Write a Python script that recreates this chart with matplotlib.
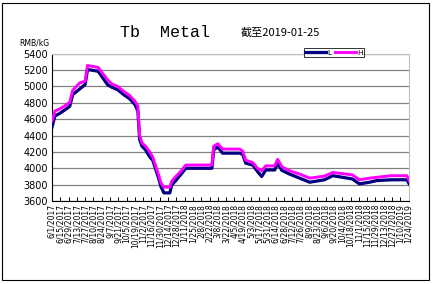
import pandas as pd
import matplotlib.pyplot as plt
from matplotlib.patches import Rectangle

plt.rcParams['font.family'] = ['Noto Sans CJK SC', 'DejaVu Sans']

# price breakpoints (RMB/kG)
dates = ['2017-06-01', '2017-06-06', '2017-06-14', '2017-06-24', '2017-07-01', '2017-07-06',
         '2017-07-18', '2017-07-27', '2017-07-31', '2017-08-18', '2017-09-03', '2017-09-10',
         '2017-09-20', '2017-09-30', '2017-10-10', '2017-10-19', '2017-10-24', '2017-10-27',
         '2017-10-31', '2017-11-06', '2017-11-13', '2017-11-18', '2017-11-23', '2017-11-28',
         '2017-12-02', '2017-12-07', '2017-12-17', '2017-12-20', '2017-12-27', '2018-01-04',
         '2018-01-13', '2018-02-26', '2018-03-01', '2018-03-08', '2018-03-16', '2018-04-14',
         '2018-04-19', '2018-04-24', '2018-05-06', '2018-05-14', '2018-05-21', '2018-05-28',
         '2018-06-12', '2018-06-17', '2018-06-24', '2018-07-07', '2018-07-24', '2018-08-10',
         '2018-09-04', '2018-09-18', '2018-10-21', '2018-11-02', '2018-11-19', '2018-12-01',
         '2018-12-26', '2019-01-21', '2019-01-25']
low = [4500, 4640, 4670, 4720, 4757, 4900,
       4970, 5023, 5207, 5185, 5020, 4990,
       4960, 4900, 4850, 4780, 4700, 4350,
       4270, 4225, 4140, 4100, 3990, 3880,
       3775, 3700, 3700, 3795, 3850, 3920,
       4000, 4000, 4225, 4260, 4185, 4185,
       4170, 4063, 4040, 3960, 3900, 3980,
       3980, 4060, 3975, 3930, 3880, 3830,
       3860, 3910, 3870, 3810, 3830, 3850,
       3860, 3860, 3810]
high = [4580, 4700, 4725, 4770, 4806, 4953,
        5044, 5064, 5256, 5232, 5080, 5030,
        5000, 4940, 4890, 4820, 4760, 4400,
        4310, 4270, 4200, 4140, 4030, 3920,
        3820, 3770, 3770, 3840, 3900, 3960,
        4040, 4040, 4270, 4300, 4235, 4235,
        4210, 4100, 4070, 4000, 3970, 4030,
        4030, 4110, 4020, 3970, 3930, 3880,
        3905, 3950, 3920, 3860, 3880, 3890,
        3910, 3910, 3850]

x = pd.to_datetime(dates)
ticks = pd.date_range('2017-06-01', '2019-01-24', freq='14D')
tick_labels = [f'{d.month}/{d.day}/{d.year}' for d in ticks]

fig = plt.figure(figsize=(4.33, 2.84), dpi=100)
ax = fig.add_axes([0.120, 0.292, 0.825, 0.519])

ax.plot(x, low, color='#000080', lw=2.3, label='L', zorder=3)
ax.plot(x, high, color='#ff00ff', lw=2.1, label='H', zorder=4)

ax.set_ylim(3600, 5400)
ax.set_yticks(range(3600, 5401, 200))
ax.set_xlim(ticks[0], pd.Timestamp('2019-01-25'))
ax.set_xticks(ticks)
ax.set_xticklabels(tick_labels, rotation=90, fontsize=5.5, family='DejaVu Sans')
ax.tick_params(axis='x', direction='in', length=3, width=0.7, pad=2)
ax.tick_params(axis='y', length=0, labelsize=7, pad=3)
for lab in ax.get_yticklabels():
    lab.set_family('DejaVu Sans')

ax.grid(axis='y', color='#808080', lw=0.9)
ax.set_axisbelow(True)
for s in ['top', 'right']:
    ax.spines[s].set_color('#c0c0c0')
for s in ['left', 'bottom']:
    ax.spines[s].set_color('black')
    ax.spines[s].set_linewidth(0.8)

fig.text(0.38, 0.885, 'Tb  Metal', fontsize=12, family='Liberation Mono', ha='center', va='center')
fig.text(0.555, 0.885, '截至2019-01-25', fontsize=8, ha='left', va='center')
fig.text(0.045, 0.848, 'RMB/kG', fontsize=5.5, family='DejaVu Sans', ha='left', va='center')

leg = ax.legend(loc='lower left', bbox_to_anchor=(0.705, 0.975), ncol=2, fontsize=5.5,
                frameon=True, fancybox=False, edgecolor='black', handlelength=2.8,
                handletextpad=0.2, columnspacing=0.4, borderpad=0.1, borderaxespad=0)
leg.get_frame().set_linewidth(0.7)

fig.patches.append(Rectangle((0.005, 0.015), 0.985, 0.975, transform=fig.transFigure,
                             fill=False, edgecolor='black', lw=0.8))

fig.savefig('out.png', dpi=100)
